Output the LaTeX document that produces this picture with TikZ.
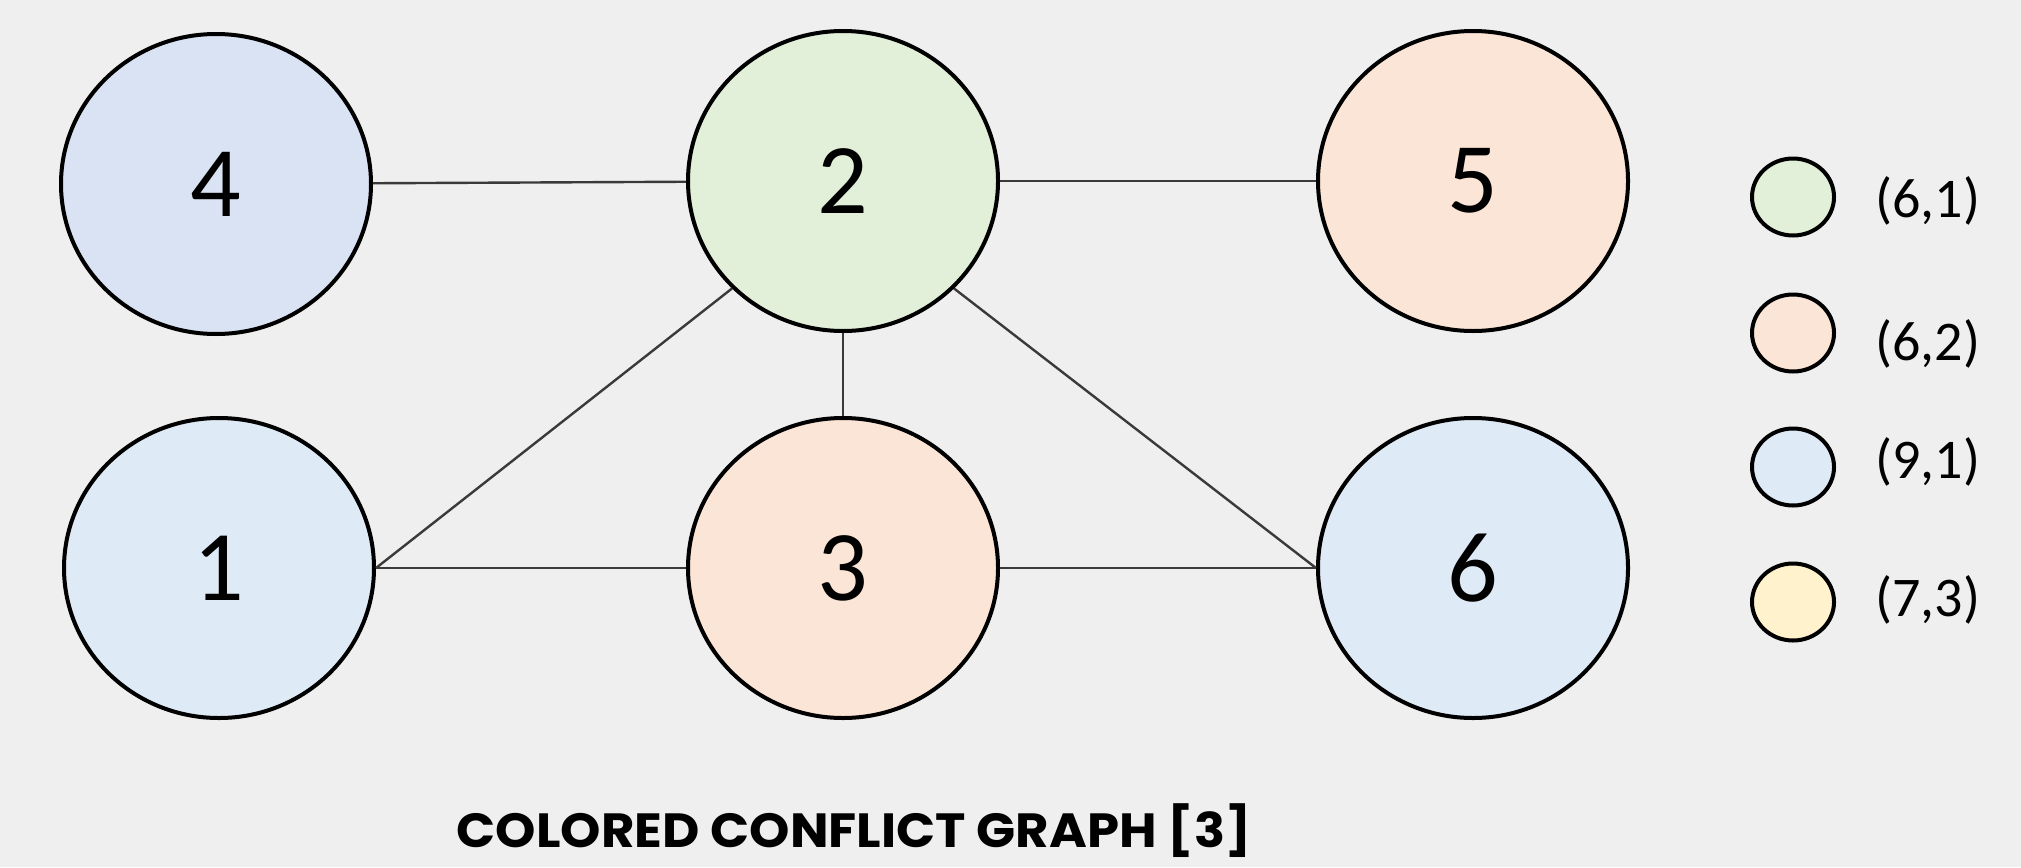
\documentclass[tikz,border=0pt]{standalone}
\usepackage{fontspec}
\setmainfont{Carlito}
\newfontfamily\titlefont{Poppins}
\usetikzlibrary{shapes.geometric}
\definecolor{bg}{HTML}{EFEFEF}
\definecolor{cgreen}{HTML}{E2EFD9}
\definecolor{cpeach}{HTML}{FBE5D6}
\definecolor{cblue}{HTML}{DEEBF7}
\definecolor{cblueb}{HTML}{DAE3F3}
\definecolor{cyellow}{HTML}{FFF2CC}
\definecolor{edgegray}{HTML}{3A3A3A}
\tikzset{
  vertex/.style={ellipse, draw=black, line width=2pt, minimum width=155pt,
    minimum height=150pt, inner sep=0pt, font=\fontsize{50}{50}\selectfont},
  swatch/.style={ellipse, draw=black, line width=2pt, minimum width=41pt,
    minimum height=38.5pt, inner sep=0pt},
  legendtext/.style={anchor=west, inner sep=0pt, font=\fontsize{28}{28}\selectfont},
  conflict/.style={draw=edgegray, line width=1.2pt}
}
\begin{document}
\begin{tikzpicture}[x=0.5pt, y=-0.5pt]
  \fill[bg] (0,0) rectangle (2021,867);
  \useasboundingbox (0,0) rectangle (2021,867);

  % vertices of the conflict graph
  \node[vertex, fill=cblueb] (n4) at (216,184) {4};
  \node[vertex, fill=cgreen] (n2) at (843,181) {2};
  \node[vertex, fill=cpeach] (n5) at (1473,181) {5};
  \node[vertex, fill=cblue]  (n1) at (219,568) {1};
  \node[vertex, fill=cpeach] (n3) at (843,568) {3};
  \node[vertex, fill=cblue]  (n6) at (1473,568) {6};

  % conflicts
  \draw[conflict] (n4) -- (n2);
  \draw[conflict] (n2) -- (n5);
  \draw[conflict] (n2) -- (n3);
  \draw[conflict] (n2.south west) -- (n1.east);
  \draw[conflict] (n2.south east) -- (n6.west);
  \draw[conflict] (n1) -- (n3);
  \draw[conflict] (n3) -- (n6);

  % colour legend
  \node[swatch, fill=cgreen]  (l1) at (1793,197) {};
  \node[swatch, fill=cpeach]  (l2) at (1793,333) {};
  \node[swatch, fill=cblue]   (l3) at (1793,467) {};
  \node[swatch, fill=cyellow] (l4) at (1793,602) {};
  \node[legendtext] (t1) at (1875,201) {(6,1)};
  \node[legendtext] (t2) at (1875,344) {(6,2)};
  \node[legendtext] (t3) at (1875,462) {(9,1)};
  \node[legendtext] (t4) at (1875,600) {(7,3)};

  % caption
  \node[inner sep=0pt, xscale=1.07, font=\titlefont\bfseries\fontsize{24}{24}\selectfont] (title) at (854,831) {COLORED CONFLICT GRAPH [3]};
\end{tikzpicture}
\end{document}
